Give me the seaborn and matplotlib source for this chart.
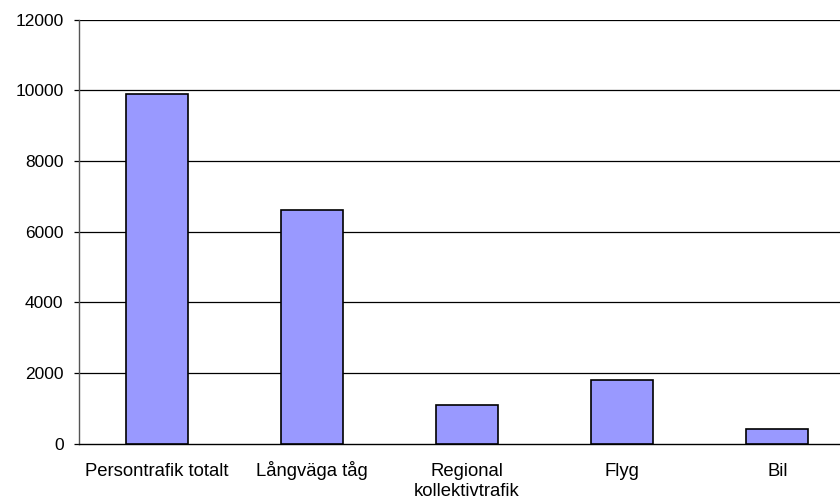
import matplotlib
matplotlib.use("Agg")
import matplotlib.pyplot as plt
import matplotlib.transforms as mtransforms
import seaborn as sns
import pandas as pd

categories = ["Persontrafik totalt", "Långväga tåg", "Regional\nkollektivtrafik", "Flyg", "Bil"]
values = [9900, 6600, 1100, 1800, 400]
yticks = [0, 2000, 4000, 6000, 8000, 10000, 12000]

sns.set_theme(style="white")
plt.rcParams["font.family"] = ["Liberation Sans", "DejaVu Sans"]
plt.rcParams["text.color"] = "black"
plt.rcParams["xtick.labelcolor"] = "black"
plt.rcParams["ytick.labelcolor"] = "black"

df = pd.DataFrame({"kategori": categories, "värde": values})

fig = plt.figure(figsize=(8.4, 5.0), dpi=100)
ax = fig.add_axes([79 / 840, 56.5 / 500, 776 / 840, 424 / 500])

sns.barplot(data=df, x="kategori", y="värde", color="#9999FF", saturation=1,
            width=0.4, edgecolor="black", linewidth=1.2, ax=ax, zorder=3)

ax.set_xlim(-0.5, 4.5)
ax.set_ylim(0, 12000)
ax.set_yticks(yticks)
ax.set_yticklabels([str(v) for v in yticks])
ax.set_xlabel("")
ax.set_ylabel("")

for v in yticks[1:]:
    ax.axhline(v, color="black", linewidth=0.9, zorder=1)

for side in ["top", "right"]:
    ax.spines[side].set_visible(False)
ax.spines["left"].set_color("#555555")
ax.spines["left"].set_linewidth(1.0)
ax.spines["bottom"].set_color("black")
ax.spines["bottom"].set_linewidth(1.0)

ax.tick_params(axis="y", direction="out", length=3.6, width=0.9, color="black",
               pad=7.5, labelsize=12.5, labelcolor="black", left=True)
ax.tick_params(axis="x", length=0, pad=23.4, labelsize=13.3, labelcolor="black")

# single-line labels sit on a common baseline; wrapped labels hang from the top
lift = mtransforms.ScaledTranslation(0, 9.1 / 72, fig.dpi_scale_trans)
for lbl in ax.get_xticklabels():
    lbl.set_linespacing(1.2)
    if "\n" in lbl.get_text():
        lbl.set_verticalalignment("top")
        lbl.set_transform(lbl.get_transform() + lift)
    else:
        lbl.set_verticalalignment("baseline")

fig.savefig("out.png", dpi=100)
